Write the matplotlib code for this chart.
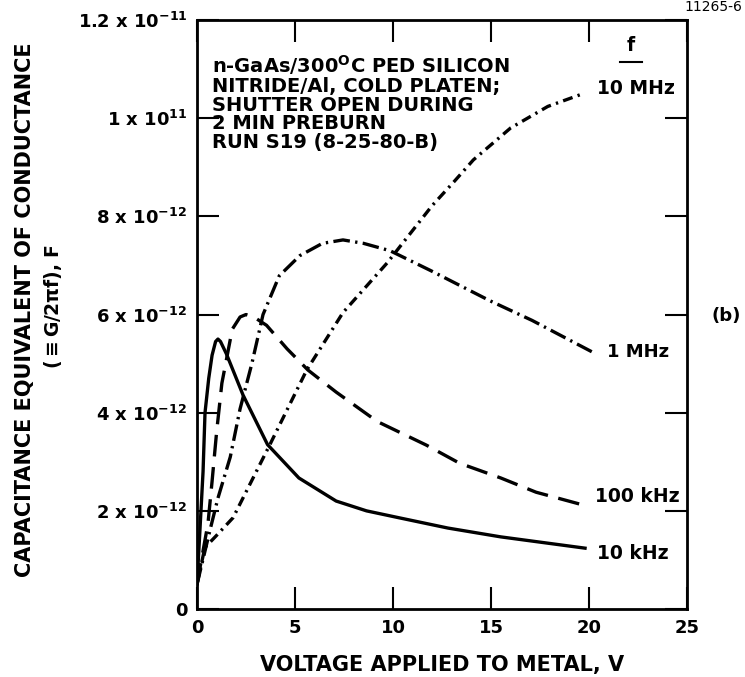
import matplotlib.pyplot as plt

# voltage (V) and conductance-equivalent capacitance (units of 1e-12 F)
v_10k = [0, 0.15, 0.31, 0.41, 0.6, 0.77, 0.95, 1.07, 1.2, 1.5, 2.35, 3.6, 5.2, 7.1, 8.65, 10.3, 12.8, 15.5, 19.8]
c_10k = [0.5, 1.6, 2.8, 4.0, 4.7, 5.17, 5.45, 5.5, 5.45, 5.2, 4.36, 3.35, 2.67, 2.2, 2.0, 1.86, 1.65, 1.47, 1.24]

v_100k = [0, 0.56, 0.77, 1.0, 1.27, 1.8, 2.2, 2.5, 2.9, 3.55, 4.6, 5.66, 7.1, 9.2, 11.7, 13.4, 15.5, 17.3, 19.7]
c_100k = [0.5, 1.74, 2.6, 3.6, 4.6, 5.7, 5.95, 6.0, 5.95, 5.78, 5.3, 4.87, 4.42, 3.82, 3.34, 2.97, 2.67, 2.38, 2.12]

v_1m = [0, 0.66, 1.07, 1.7, 2.2, 2.8, 3.37, 4.2, 5.25, 6.4, 7.45, 8.5, 9.85, 11.9, 14.95, 17.1, 20.2]
c_1m = [0.5, 1.6, 2.26, 3.1, 4.08, 5.0, 6.0, 6.79, 7.2, 7.45, 7.52, 7.45, 7.3, 6.9, 6.28, 5.88, 5.23]

v_10m = [0, 0.4, 1.0, 1.84, 3.72, 5.6, 7.45, 9.7, 12.0, 13.1, 14.1, 16.0, 17.9, 19.7]
c_10m = [0.5, 1.25, 1.5, 1.86, 3.35, 4.87, 6.04, 7.05, 8.22, 8.7, 9.15, 9.8, 10.24, 10.5]

yticks = [0, 2e-12, 4e-12, 6e-12, 8e-12, 1e-11, 1.2e-11]
ytick_labels = ['0', r'2 x 10$^{-12}$', r'4 x 10$^{-12}$', r'6 x 10$^{-12}$',
                r'8 x 10$^{-12}$', r'1 x 10$^{11}$', r'1.2 x 10$^{-11}$']
xticks = [0, 5, 10, 15, 20, 25]

plt.rcParams['font.family'] = ['DejaVu Sans']
plt.rcParams['font.weight'] = 'bold'
plt.rcParams['mathtext.fontset'] = 'custom'
plt.rcParams['mathtext.rm'] = 'DejaVu Sans:bold'
plt.rcParams['mathtext.it'] = 'DejaVu Sans:bold'

fig = plt.figure(figsize=(7.45, 6.77), dpi=100)
ax = fig.add_axes([0.2644, 0.1004, 0.6577, 0.8700])

lw = 2.4
e = 1e-12
ax.plot(v_10k, [c * e for c in c_10k], color='black', lw=lw, ls='-')
ax.plot(v_100k, [c * e for c in c_100k], color='black', lw=lw, ls=(0, (6.5, 3.2)))
ax.plot(v_1m, [c * e for c in c_1m], color='black', lw=lw, ls=(0, (5, 1.6, 0.7, 1.6)))
ax.plot(v_10m, [c * e for c in c_10m], color='black', lw=lw, ls=(0, (3, 1.6, 0.7, 1.6)))

ax.set_xlim(0, 25)
ax.set_ylim(0, 1.2e-11)
ax.set_xticks(xticks)
ax.set_yticks(yticks)
ax.set_yticklabels(ytick_labels)
ax.tick_params(direction='in', length=16, width=1.5, top=True, right=True,
               labelsize=13, pad=7)
for s in ax.spines.values():
    s.set_linewidth(2)

ax.set_xlabel('VOLTAGE APPLIED TO METAL, V', fontsize=15, fontweight='bold', labelpad=13)
fig.text(0.034, 0.542, 'CAPACITANCE EQUIVALENT OF CONDUCTANCE', rotation=90,
         fontsize=15, ha='center', va='center')
fig.text(0.071, 0.547, r'($\equiv$G/2$\pi$f), F', rotation=90,
         fontsize=13.5, ha='center', va='center')

ax.text(0.75, 1.132e-11, 'n-GaAs/300$^{O}$C PED SILICON\nNITRIDE/Al, COLD PLATEN;\n'
        'SHUTTER OPEN DURING\n2 MIN PREBURN\nRUN S19 (8-25-80-B)',
        fontsize=14, va='top', ha='left', linespacing=0.98)

ax.text(22.15, 1.128e-11, 'f', fontsize=13.5, ha='center', va='bottom')
ax.plot([21.6, 22.7], [1.114e-11, 1.114e-11], color='black', lw=1.5)
ax.text(20.4, 1.06e-11, '10 MHz', fontsize=13.5, ha='left', va='center')
ax.text(20.9, 5.23e-12, '1 MHz', fontsize=13, ha='left', va='center')
ax.text(20.3, 2.3e-12, '100 kHz', fontsize=13.5, ha='left', va='center')
ax.text(20.4, 1.14e-12, '10 kHz', fontsize=13.5, ha='left', va='center')
fig.text(0.955, 0.533, '(b)', fontsize=13, ha='left', va='center')
fig.text(0.996, 0.99, '11265-6', fontsize=10, ha='right', va='center', fontweight='normal')

fig.savefig('out.png', dpi=100)
